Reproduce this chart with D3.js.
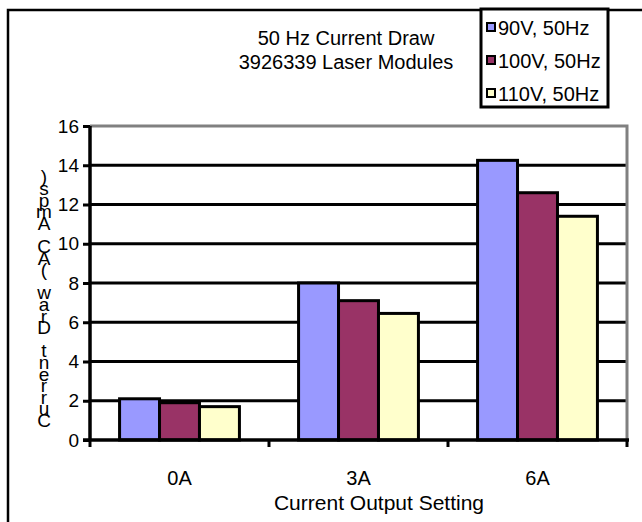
<!DOCTYPE html>
<html lang="en">
<head>
  <meta charset="UTF-8">
  <title>50 Hz Current Draw</title>
  <script src="https://d3js.org/d3.v7.min.js"></script>
  <style>
    body { margin: 0; background: #fff; }
    svg { display: block; }
    text { font-family: Arial, "Liberation Sans", sans-serif; fill: #000; }
  </style>
</head>
<body>
  <svg width="642" height="522"></svg>

  <script>
    // Chart data
    const categories = ["0A", "3A", "6A"];
    const seriesNames = ["90V, 50Hz", "100V, 50Hz", "110V, 50Hz"];
    const seriesColors = ["#9999FF", "#993366", "#FFFFCC"];
    const values = [
      [2.1, 8.0, 14.25],   // 90V
      [1.9, 7.1, 12.6],    // 100V
      [1.7, 6.45, 11.4]    // 110V
    ];
    const yTicks = [0, 2, 4, 6, 8, 10, 12, 14, 16];
    const titleLines = ["50 Hz Current Draw", "3926339 Laser Modules"];
    const yTitle = "Current Draw (AC Amps)";
    const xTitle = "Current Output Setting";

    const fontSize = 20;
    const svg = d3.select("svg");

    // outer chart frame (runs off the right and bottom)
    svg.append("path")
      .attr("d", "M8,530 V10 H650")
      .attr("fill", "none")
      .attr("stroke", "#000")
      .attr("stroke-width", 2.5);

    // Plot area
    const plot = { left: 90, right: 627, top: 126, bottom: 440 };

    const x0 = d3.scaleBand()
      .domain(categories)
      .range([plot.left, plot.right])
      .padding(0);

    const x1 = d3.scaleBand()
      .domain(seriesNames)
      .range([0, x0.bandwidth()])
      .paddingInner(0)
      .paddingOuter(0.74);

    const y = d3.scaleLinear()
      .domain([0, 16])
      .range([plot.bottom, plot.top]);

    // gridlines
    svg.append("g")
      .selectAll("line")
      .data(yTicks.filter(t => t > 0 && t < 16))
      .join("line")
      .attr("x1", plot.left)
      .attr("x2", plot.right)
      .attr("y1", d => y(d))
      .attr("y2", d => y(d))
      .attr("stroke", "#000")
      .attr("stroke-width", 3);

    // plot area border (grey, top & right)
    svg.append("path")
      .attr("d", `M${plot.left},${y(16)} H${plot.right} V${plot.bottom}`)
      .attr("fill", "none")
      .attr("stroke", "#808080")
      .attr("stroke-width", 3);

    // bars
    const groups = svg.append("g")
      .selectAll("g")
      .data(categories)
      .join("g")
      .attr("transform", d => `translate(${x0(d)},0)`);

    groups.selectAll("rect")
      .data((c, ci) => seriesNames.map((s, si) => ({ s, si, v: values[si][ci] })))
      .join("rect")
      .attr("x", d => x1(d.s))
      .attr("width", x1.bandwidth())
      .attr("y", d => y(d.v))
      .attr("height", d => y(0) - y(d.v))
      .attr("fill", d => seriesColors[d.si])
      .attr("stroke", "#000")
      .attr("stroke-width", 3);

    // y axis
    const yAxis = svg.append("g")
      .attr("transform", `translate(${plot.left},0)`)
      .call(d3.axisLeft(y).tickValues(yTicks).tickSize(7).tickPadding(4));
    yAxis.select(".domain").attr("stroke-width", 3.5).attr("d", `M0,${y(16)} V${y(0)}`);
    yAxis.selectAll(".tick line").attr("stroke-width", 3);
    yAxis.selectAll(".tick text")
      .attr("font-size", 19)
      .attr("font-family", "Arial, 'Liberation Sans', sans-serif");

    // x axis
    const xAxis = svg.append("g")
      .attr("transform", `translate(0,${plot.bottom})`)
      .call(d3.axisBottom(x0).tickSize(0).tickPadding(31));
    xAxis.select(".domain").attr("stroke-width", 3.5).attr("d", `M${plot.left - 7},0 H${plot.right + 2}`);
    xAxis.selectAll(".tick text")
      .attr("font-size", fontSize)
      .attr("font-family", "Arial, 'Liberation Sans', sans-serif");
    // category boundary ticks
    xAxis.append("g")
      .selectAll("line")
      .data(categories.map(c => x0(c)).concat([plot.right]))
      .join("line")
      .attr("x1", d => d).attr("x2", d => d)
      .attr("y1", 0).attr("y2", 7)
      .attr("stroke", "#000")
      .attr("stroke-width", 3);

    // x title
    svg.append("text")
      .attr("x", 379)
      .attr("y", 510)
      .attr("text-anchor", "middle")
      .attr("font-size", 21)
      .text(xTitle);

    // y title: stacked characters, read bottom to top
    const yChars = yTitle.split("");
    svg.append("g")
      .selectAll("text")
      .data(yChars)
      .join("text")
      .attr("x", 44)
      .attr("y", (d, i) => 427 - i * 11.6)
      .attr("text-anchor", "middle")
      .attr("font-size", 19)
      .text(d => d);

    // chart title
    svg.append("text")
      .attr("text-anchor", "middle")
      .attr("font-size", fontSize)
      .selectAll("tspan")
      .data(titleLines)
      .join("tspan")
      .attr("x", 346)
      .attr("y", (d, i) => 45 + i * 24)
      .text(d => d);

    // legend
    const legend = { x: 481, y: 9, w: 127, h: 98 };
    svg.append("clipPath").attr("id", "legclip")
      .append("rect")
      .attr("x", legend.x).attr("y", legend.y)
      .attr("width", legend.w - 2).attr("height", legend.h);

    const lg = svg.append("g");
    lg.append("rect")
      .attr("x", legend.x).attr("y", legend.y)
      .attr("width", legend.w).attr("height", legend.h)
      .attr("fill", "#fff")
      .attr("stroke", "#000")
      .attr("stroke-width", 3);

    const items = lg.append("g").attr("clip-path", "url(#legclip)")
      .selectAll("g")
      .data(seriesNames)
      .join("g")
      .attr("transform", (d, i) => `translate(${legend.x + 5},${legend.y + 20 + i * 33})`);

    items.append("rect")
      .attr("x", 1).attr("y", -6)
      .attr("width", 8).attr("height", 8)
      .attr("fill", (d, i) => seriesColors[i])
      .attr("stroke", "#000")
      .attr("stroke-width", 2);

    items.append("text")
      .attr("x", 12)
      .attr("y", 6)
      .attr("font-size", fontSize)
      .text(d => d);
  </script>
</body>
</html>
